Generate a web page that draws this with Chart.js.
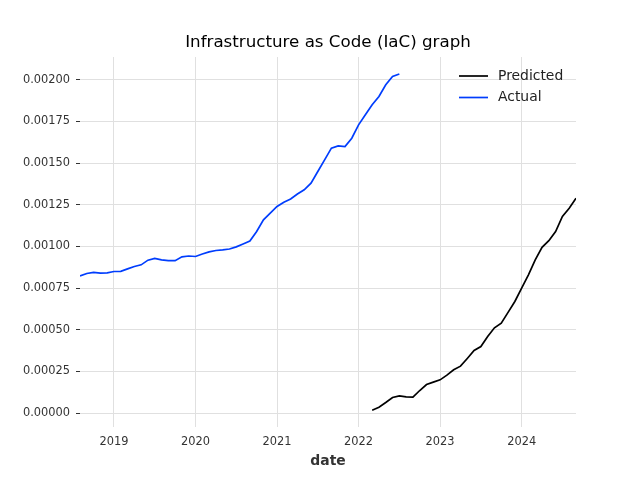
<!DOCTYPE html>
<html>
<head>
<meta charset="utf-8">
<script src="https://cdn.jsdelivr.net/npm/chart.js@4"></script>
<style>
  html, body { margin: 0; padding: 0; background: #fff; }
</style>
</head>
<body>
<canvas id="grafico" width="640" height="480"></canvas>
<script>
// monthly data, first month and how many months follow
var actualStart = "2018-08";
var actualValues = [
  0.000823, 0.000838, 0.000845, 0.000840, 0.000842, 0.000850, 0.000851, 0.000866,
  0.000880, 0.000890, 0.000918, 0.000929, 0.000920, 0.000915, 0.000915, 0.000938,
  0.000943, 0.000940, 0.000955, 0.000968, 0.000976, 0.000980, 0.000985, 0.000998,
  0.001015, 0.001033, 0.001090, 0.001160, 0.001200, 0.001240, 0.001266, 0.001285,
  0.001315, 0.001340, 0.001380, 0.001450, 0.001520, 0.001590, 0.001604, 0.001600,
  0.001650, 0.001730, 0.001790, 0.001850, 0.001900, 0.001970, 0.002020, 0.002035
];

var predictedStart = "2022-03";
var predictedValues = [
  0.000018, 0.000036, 0.000064, 0.000094, 0.000104, 0.000098, 0.000096, 0.000136,
  0.000172, 0.000186, 0.000200, 0.000228, 0.000260, 0.000282, 0.000328, 0.000376,
  0.000400, 0.000460, 0.000512, 0.000540, 0.000605, 0.000670, 0.000750, 0.000830,
  0.000920, 0.000995, 0.001035, 0.001090, 0.001180, 0.001230, 0.001290
];

var yearTicks = [2019, 2020, 2021, 2022, 2023, 2024];
var valueTicks = [0, 0.00025, 0.0005, 0.00075, 0.001, 0.00125, 0.0015, 0.00175, 0.002];

// "YYYY-MM" -> decimal year
function toYear(s) {
    var p = s.split("-");
    return parseInt(p[0]) + (parseInt(p[1]) - 1) / 12;
}

function toPoints(start, values) {
    var x0 = toYear(start);
    var pts = [];
    for (var i = 0; i < values.length; i++) {
        pts.push({ x: x0 + i / 12, y: values[i] });
    }
    return pts;
}

var predictedPts = toPoints(predictedStart, predictedValues);
var actualPts = toPoints(actualStart, actualValues);

var fontFam = "'DejaVu Sans', sans-serif";

// title centered over the plot and legend in the upper right corner
var extras = {
    id: 'extras',
    afterDraw: function(chart) {
        var ctx = chart.ctx;
        var area = chart.chartArea;
        ctx.save();
        ctx.fillStyle = '#000';
        ctx.font = '16.7px ' + fontFam;
        ctx.textAlign = 'center';
        ctx.textBaseline = 'middle';
        ctx.fillText('Infrastructure as Code (IaC) graph', (area.left + area.right) / 2, 43);

        var items = [['Predicted', '#000000'], ['Actual', '#003DFD']];
        ctx.font = '13.9px ' + fontFam;
        ctx.textAlign = 'left';
        for (var i = 0; i < items.length; i++) {
            var y = 76 + i * 21.5;
            ctx.strokeStyle = items[i][1];
            ctx.lineWidth = 1.7;
            ctx.beginPath();
            ctx.moveTo(459, y);
            ctx.lineTo(488, y);
            ctx.stroke();
            ctx.fillStyle = '#222';
            ctx.fillText(items[i][0], 498, y);
        }
        ctx.restore();
    }
};

var ctx = document.getElementById('grafico').getContext('2d');
var grafico = new Chart(ctx, {
    type: 'line',
    data: {
        datasets: [
            {
                label: 'Predicted',
                data: predictedPts,
                borderColor: '#000000',
                borderWidth: 1.7,
                pointRadius: 0,
                fill: false,
                tension: 0
            },
            {
                label: 'Actual',
                data: actualPts,
                borderColor: '#003DFD',
                borderWidth: 1.7,
                pointRadius: 0,
                fill: false,
                tension: 0
            }
        ]
    },
    options: {
        responsive: false,
        animation: false,
        devicePixelRatio: 1,
        layout: { padding: { top: 57, right: 64, left: 0, bottom: 0 } },
        plugins: {
            legend: { display: false },
            title: { display: false },
            tooltip: { enabled: false }
        },
        scales: {
            x: {
                type: 'linear',
                min: toYear(actualStart),
                max: toYear(predictedStart) + (predictedValues.length - 1) / 12,
                afterBuildTicks: function(scale) {
                    scale.ticks = yearTicks.map(function(v) { return { value: v }; });
                },
                afterFit: function(scale) { scale.height = 53; },
                border: { display: false },
                grid: { color: '#e0e0e0', lineWidth: 1, drawTicks: false },
                ticks: {
                    padding: 8,
                    color: '#333',
                    font: { family: fontFam, size: 11.4 },
                    maxRotation: 0,
                    callback: function(v) { return String(v); }
                },
                title: {
                    display: true,
                    text: 'date',
                    color: '#333',
                    font: { family: fontFam, size: 13.9, weight: 'bold' },
                    padding: { top: 0, bottom: 10.5 }
                }
            },
            y: {
                min: -0.000083,
                max: 0.002137,
                afterBuildTicks: function(scale) {
                    scale.ticks = valueTicks.map(function(v) { return { value: v }; });
                },
                afterFit: function(scale) { scale.width = 80; },
                border: { display: false },
                grid: { color: '#e0e0e0', lineWidth: 1, tickColor: '#333', tickLength: 4 },
                ticks: {
                    padding: 6,
                    color: '#333',
                    font: { family: fontFam, size: 11.4 },
                    callback: function(v) { return v.toFixed(5); }
                }
            }
        }
    },
    plugins: [extras]
});
</script>
</body>
</html>
